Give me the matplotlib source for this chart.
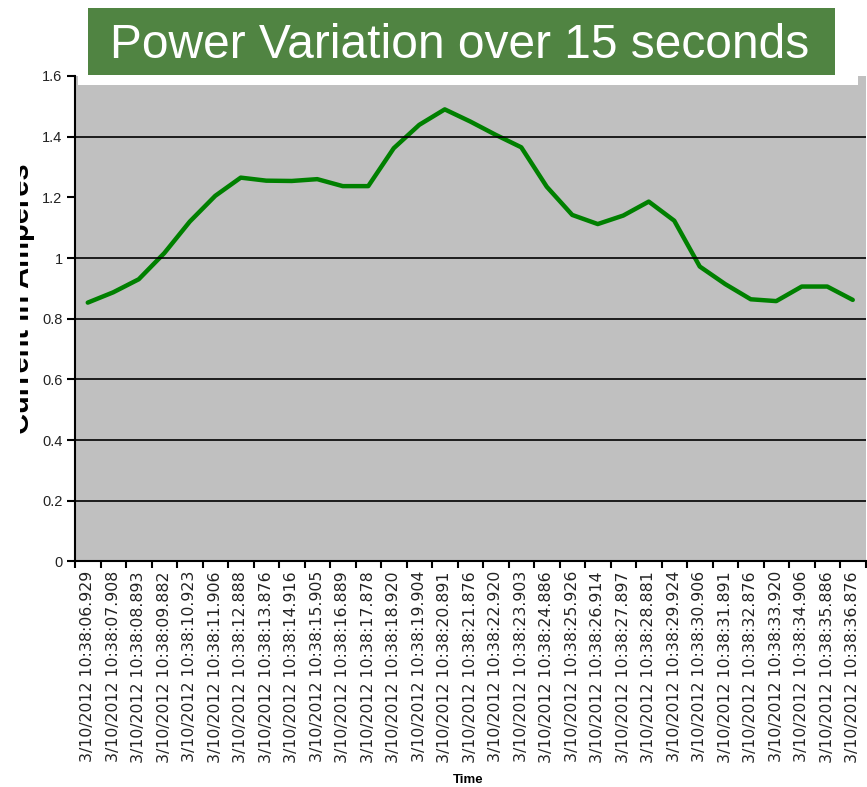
import numpy as np
import matplotlib
matplotlib.use("Agg")
import matplotlib.pyplot as plt
from matplotlib import font_manager
from matplotlib.patches import Rectangle

# time stamps (seconds part) and current readings
stamps = ["06.929", "07.908", "08.893", "09.882", "10.923", "11.906", "12.888",
          "13.876", "14.916", "15.905", "16.889", "17.878", "18.920", "19.904",
          "20.891", "21.876", "22.920", "23.903", "24.886", "25.926", "26.914",
          "27.897", "28.881", "29.924", "30.906", "31.891", "32.876", "33.920",
          "34.906", "35.886", "36.876"]
current = [0.853, 0.887, 0.930, 1.016, 1.120, 1.205, 1.265, 1.255, 1.254, 1.260,
           1.237, 1.237, 1.362, 1.439, 1.490, 1.450, 1.406, 1.365, 1.235, 1.142,
           1.112, 1.140, 1.186, 1.123, 0.972, 0.914, 0.864, 0.858, 0.906, 0.906,
           0.862]
labels = ["3/10/2012 10:38:" + s for s in stamps]
yticks = [0, 0.2, 0.4, 0.6, 0.8, 1, 1.2, 1.4, 1.6]
ytick_labels = ["0", "0.2", "0.4", "0.6", "0.8", "1", "1.2", "1.4", "1.6"]

def pick(names):
    for n in names:
        try:
            font_manager.findfont(n, fallback_to_default=False)
            return n
        except Exception:
            pass
    return "DejaVu Sans"

narrow = pick(["Liberation Sans Narrow", "Liberation Sans"])
sans = pick(["Liberation Sans", "DejaVu Sans"])

W, H = 867, 787
fig = plt.figure(figsize=(W / 100, H / 100), dpi=100)
ax = fig.add_axes([75 / W, 1 - 561.4 / H, 790.5 / W, 485.4 / H])
ax.set_facecolor("#c0c0c0")

x = np.arange(len(current))
ax.plot(x, current, color="#008000", linewidth=3.2, solid_capstyle="round")

ax.set_xlim(-0.5, len(current) - 0.5)
ax.set_ylim(0, 1.6)
ax.set_yticks(yticks)
ax.set_yticklabels(ytick_labels, fontsize=10.5, family=narrow, color="#222222")
ax.set_xticks(x)
ax.set_xticklabels(labels, rotation=90, fontsize=11.3, family="DejaVu Sans",
                   color="#222222")
ax.set_xticks(np.arange(len(current) + 1) - 0.5, minor=True)
ax.tick_params(axis="x", which="major", length=0, pad=7)
ax.tick_params(axis="x", which="minor", length=5, width=1.5, color="black")
ax.tick_params(axis="y", length=6, width=1.5, pad=3)

ax.grid(axis="y", color="black", linewidth=1.2)
ax.set_axisbelow(False)
ygl = ax.yaxis.get_gridlines()
ygl[0].set_visible(False)
ygl[6].set_visible(False)
ygl[8].set_visible(False)

for s in ["left", "bottom"]:
    ax.spines[s].set_color("black")
    ax.spines[s].set_linewidth(1.5)
for s in ["top", "right"]:
    ax.spines[s].set_visible(False)

# axis titles
fig.text(468 / W, 1 - 780 / H, "Time", ha="center", va="center",
         fontsize=9.5, fontweight="bold", family=sans)
fig.text(35 / W, 1 - 299 / H, "Current in Amperes", rotation=90,
         ha="right", va="center", fontsize=21, fontweight="bold",
         family=sans, zorder=3)
# the left part of the axis title is cut off in the original
fig.patches.append(Rectangle((0, 1 - 460 / H), 19.5 / W, 320 / H,
                             transform=fig.transFigure, facecolor="white",
                             edgecolor="none", zorder=5))

# title banner
fig.patches.append(Rectangle((78 / W, 1 - 85 / H), 780 / W, 85 / H,
                             transform=fig.transFigure, facecolor="white",
                             edgecolor="none", zorder=5))
fig.patches.append(Rectangle((88 / W, 1 - 75 / H), 747 / W, 67 / H,
                             transform=fig.transFigure, facecolor="#508442",
                             edgecolor="none", zorder=6))
fig.text(460 / W, 1 - 45 / H, "Power Variation over 15 seconds", ha="center",
         va="center", fontsize=42 if narrow != sans else 34.5, color="white",
         family=narrow, zorder=7)

fig.savefig("out.png", dpi=100)
